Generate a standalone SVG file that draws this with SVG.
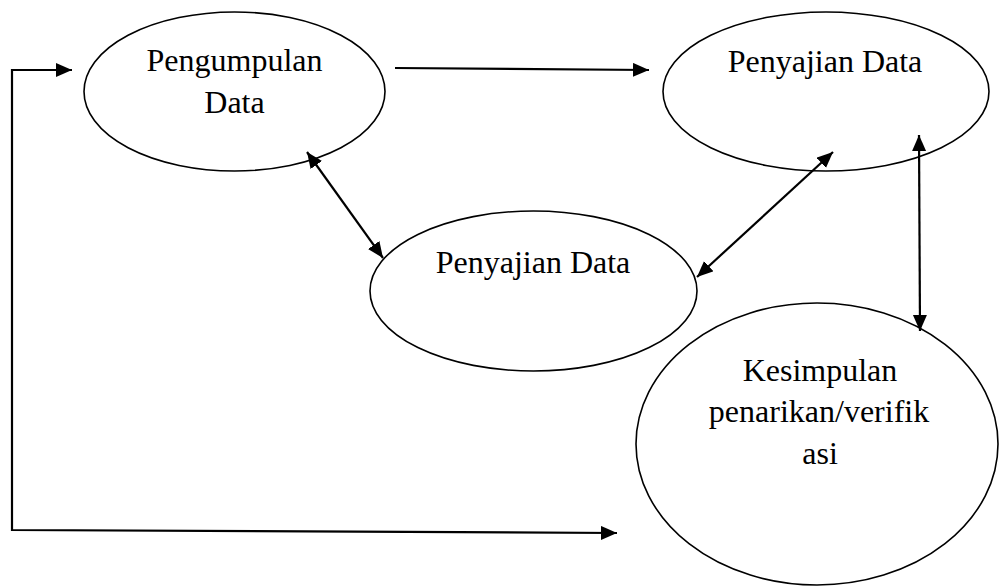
<svg xmlns="http://www.w3.org/2000/svg" width="1000" height="586" viewBox="0 0 1000 586">
  <style>
    .node { fill: #ffffff; stroke: #000000; stroke-width: 1.6; }
    .label { font-family: "Liberation Serif", "Times New Roman", serif; font-size: 32px; fill: #000000; text-anchor: middle; }
    .conn { fill: none; stroke: #000000; stroke-width: 2.2; }
  </style>
  <defs>
    <marker id="arrow" markerUnits="userSpaceOnUse" markerWidth="17" markerHeight="15" refX="16" refY="7" orient="auto-start-reverse">
      <path d="M0,0 L16,7 L0,14 Z" fill="#000000"/>
    </marker>
  </defs>

  <rect x="0" y="0" width="1000" height="586" fill="#ffffff"/>

  <g id="node-pengumpulan">
    <ellipse class="node" cx="234.5" cy="91.5" rx="150.5" ry="79.5"/>
    <text class="label" x="234.5" y="71">Pengumpulan</text>
    <text class="label" x="234.5" y="113">Data</text>
  </g>

  <g id="node-penyajian-atas">
    <ellipse class="node" cx="826" cy="91.5" rx="163" ry="79.5"/>
    <text class="label" x="825" y="72">Penyajian Data</text>
  </g>

  <g id="node-penyajian-tengah">
    <ellipse class="node" cx="533.5" cy="291" rx="163.5" ry="80"/>
    <text class="label" x="533" y="273">Penyajian Data</text>
  </g>

  <g id="node-kesimpulan">
    <ellipse class="node" cx="817" cy="444" rx="181" ry="141"/>
    <text class="label" x="820" y="381">Kesimpulan</text>
    <text class="label" x="819" y="422">penarikan/verifik</text>
    <text class="label" x="820" y="464">asi</text>
  </g>

  <g id="connectors">
    <!-- loop back from the left: to Pengumpulan and to Kesimpulan -->
    <path class="conn" d="M72,70 L12,70 L12,530 L617,533" marker-start="url(#arrow)" marker-end="url(#arrow)"/>
    <!-- Pengumpulan to Penyajian (top) -->
    <path class="conn" d="M395,68 L649,70" marker-end="url(#arrow)"/>
    <!-- Pengumpulan <-> Penyajian (middle) -->
    <path class="conn" d="M307,152 L383,258" marker-start="url(#arrow)" marker-end="url(#arrow)"/>
    <!-- Penyajian (top) <-> Penyajian (middle) -->
    <path class="conn" d="M833,152 L697,277" marker-start="url(#arrow)" marker-end="url(#arrow)"/>
    <!-- Penyajian (top) <-> Kesimpulan -->
    <path class="conn" d="M919,135 L920,331" marker-start="url(#arrow)" marker-end="url(#arrow)"/>
  </g>
</svg>
